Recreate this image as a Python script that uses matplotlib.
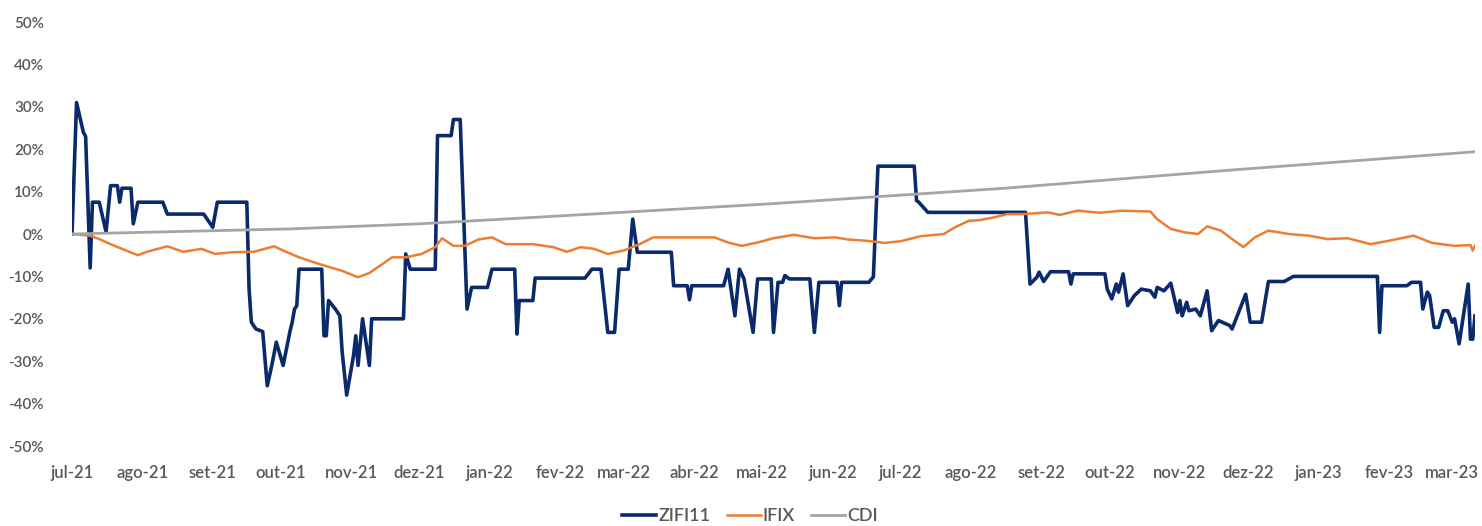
import pandas as pd
import matplotlib
matplotlib.use("Agg")
import matplotlib.pyplot as plt

plt.rcParams['font.family'] = ['Lato', 'DejaVu Sans']

# ZIFI11 cumulative return (%)
zifi_dates = [
    '2021-07-01', '2021-07-03', '2021-07-06', '2021-07-07', '2021-07-09', '2021-07-10', '2021-07-13',
    '2021-07-16', '2021-07-18', '2021-07-21', '2021-07-22', '2021-07-23', '2021-07-27', '2021-07-28',
    '2021-07-30', '2021-08-10', '2021-08-12', '2021-08-28', '2021-09-01', '2021-09-03', '2021-09-16',
    '2021-09-17', '2021-09-18', '2021-09-20', '2021-09-23', '2021-09-25', '2021-09-27', '2021-09-29',
    '2021-10-02', '2021-10-05', '2021-10-06', '2021-10-07', '2021-10-08', '2021-10-09', '2021-10-19',
    '2021-10-20', '2021-10-21', '2021-10-22', '2021-10-25', '2021-10-27', '2021-10-28', '2021-10-30',
    '2021-11-02', '2021-11-03', '2021-11-04', '2021-11-06', '2021-11-09', '2021-11-10', '2021-11-24',
    '2021-11-25', '2021-11-27', '2021-12-08', '2021-12-09', '2021-12-15', '2021-12-16', '2021-12-19',
    '2021-12-22', '2021-12-24', '2021-12-31', '2022-01-02', '2022-01-12', '2022-01-13', '2022-01-14',
    '2022-01-20', '2022-01-21', '2022-02-12', '2022-02-15', '2022-02-19', '2022-02-22', '2022-02-25',
    '2022-02-27', '2022-03-03', '2022-03-05', '2022-03-07', '2022-03-22', '2022-03-23', '2022-03-29',
    '2022-03-30', '2022-03-31', '2022-04-14', '2022-04-16', '2022-04-19', '2022-04-21', '2022-04-23',
    '2022-04-27', '2022-04-29', '2022-05-05', '2022-05-06', '2022-05-08', '2022-05-10', '2022-05-11',
    '2022-05-13', '2022-05-22', '2022-05-24', '2022-05-26', '2022-06-03', '2022-06-04', '2022-06-05',
    '2022-06-17', '2022-06-19', '2022-06-21', '2022-07-07', '2022-07-08', '2022-07-09', '2022-07-13',
    '2022-08-25', '2022-08-27', '2022-08-30', '2022-08-31', '2022-09-02', '2022-09-05', '2022-09-13',
    '2022-09-14', '2022-09-15', '2022-09-29', '2022-09-30', '2022-10-02', '2022-10-04', '2022-10-05',
    '2022-10-07', '2022-10-09', '2022-10-12', '2022-10-15', '2022-10-19', '2022-10-21', '2022-10-22',
    '2022-10-25', '2022-10-28', '2022-10-31', '2022-11-01', '2022-11-02', '2022-11-04', '2022-11-05',
    '2022-11-08', '2022-11-10', '2022-11-13', '2022-11-15', '2022-11-18', '2022-11-23', '2022-11-24',
    '2022-11-30', '2022-12-02', '2022-12-07', '2022-12-10', '2022-12-17', '2022-12-21', '2023-01-27',
    '2023-01-28', '2023-01-29', '2023-02-09', '2023-02-11', '2023-02-15', '2023-02-16', '2023-02-18',
    '2023-02-19', '2023-02-21', '2023-02-23', '2023-02-25', '2023-02-27', '2023-03-01', '2023-03-02',
    '2023-03-04', '2023-03-08', '2023-03-09', '2023-03-10', '2023-03-11',
]
zifi_values = [
    0.0, 31.0, 24.0, 23.0, -8.0, 7.5, 7.5,
    0.5, 11.4, 11.4, 7.5, 10.8, 10.8, 2.4,
    7.5, 7.5, 4.7, 4.7, 1.6, 7.5, 7.5,
    -13.0, -20.8, -22.4, -23.0, -35.8, -31.0, -25.5,
    -31.0, -23.0, -20.8, -17.7, -17.0, -8.3, -8.3,
    -24.0, -24.0, -15.7, -17.7, -19.3, -27.8, -38.0,
    -28.7, -24.0, -31.0, -20.0, -31.0, -20.0, -20.0,
    -4.7, -8.3, -8.3, 23.2, 23.2, 27.0, 27.0,
    -17.7, -12.6, -12.6, -8.3, -8.3, -23.6, -15.7,
    -15.7, -10.4, -10.4, -8.3, -8.3, -23.2, -23.2,
    -8.3, -8.3, 3.5, -4.3, -4.3, -12.2, -12.2,
    -15.5, -12.2, -12.2, -8.3, -19.3, -8.3, -10.6,
    -23.2, -10.6, -10.6, -23.2, -11.4, -11.4, -9.8,
    -10.6, -10.6, -23.2, -11.4, -11.4, -16.9, -11.4,
    -11.4, -10.1, 16.0, 16.0, 7.9, 7.5, 5.1,
    5.1, -11.8, -10.2, -9.0, -11.2, -8.9, -8.9,
    -11.8, -9.4, -9.4, -13.0, -15.3, -11.8, -13.7,
    -9.4, -16.9, -14.5, -13.0, -13.4, -14.9, -12.6,
    -13.4, -11.6, -18.5, -15.7, -19.3, -16.1, -18.1,
    -17.7, -19.3, -13.4, -22.8, -20.4, -21.6, -22.4,
    -14.2, -20.8, -20.8, -11.2, -11.2, -10.0, -10.0,
    -23.2, -12.2, -12.2, -11.4, -11.4, -17.7, -13.7,
    -14.5, -22.0, -22.0, -18.1, -18.1, -20.8, -20.0,
    -25.9, -11.8, -24.8, -24.8, -19.3,
]

# IFIX cumulative return (%)
ifix_dates = [
    '2021-07-01', '2021-07-09', '2021-07-13', '2021-07-18', '2021-07-23', '2021-07-30', '2021-08-03',
    '2021-08-12', '2021-08-19', '2021-08-27', '2021-09-02', '2021-09-10', '2021-09-19', '2021-09-28',
    '2021-10-02', '2021-10-09', '2021-10-18', '2021-10-28', '2021-11-04', '2021-11-09', '2021-11-19',
    '2021-11-25', '2021-12-02', '2021-12-08', '2021-12-11', '2021-12-16', '2021-12-21', '2021-12-27',
    '2022-01-02', '2022-01-08', '2022-01-20', '2022-01-29', '2022-02-04', '2022-02-10', '2022-02-16',
    '2022-02-22', '2022-03-01', '2022-03-08', '2022-03-14', '2022-03-26', '2022-04-10', '2022-04-16',
    '2022-04-22', '2022-04-29', '2022-05-06', '2022-05-15', '2022-05-24', '2022-06-02', '2022-06-08',
    '2022-06-16', '2022-06-24', '2022-07-01', '2022-07-10', '2022-07-20', '2022-07-25', '2022-07-31',
    '2022-08-05', '2022-08-11', '2022-08-17', '2022-08-24', '2022-09-04', '2022-09-09', '2022-09-17',
    '2022-09-27', '2022-10-06', '2022-10-19', '2022-10-22', '2022-10-28', '2022-11-03', '2022-11-09',
    '2022-11-13', '2022-11-19', '2022-11-24', '2022-11-29', '2022-12-04', '2022-12-10', '2022-12-19',
    '2022-12-28', '2023-01-05', '2023-01-14', '2023-01-24', '2023-02-01', '2023-02-12', '2023-02-20',
    '2023-03-02', '2023-03-09', '2023-03-10', '2023-03-11',
]
ifix_values = [
    0.0, -0.4, -1.2, -2.4, -3.5, -5.0, -4.2,
    -2.9, -4.2, -3.5, -4.7, -4.3, -4.2, -2.9,
    -3.9, -5.5, -7.1, -8.7, -10.2, -9.2, -5.5,
    -5.5, -4.7, -3.1, -1.0, -2.8, -2.8, -1.3,
    -0.8, -2.4, -2.4, -3.1, -4.2, -3.1, -3.5,
    -4.7, -3.9, -2.4, -0.8, -0.8, -0.8, -2.0,
    -2.8, -2.0, -1.0, -0.2, -1.0, -0.8, -1.3,
    -1.6, -2.1, -1.7, -0.5, 0.0, 1.6, 3.1,
    3.3, 3.9, 4.7, 4.7, 5.1, 4.5, 5.5,
    5.0, 5.5, 5.3, 3.5, 1.2, 0.4, 0.0,
    1.8, 0.8, -1.2, -3.1, -0.8, 0.8, 0.0,
    -0.4, -1.2, -1.0, -2.4, -1.6, -0.4, -2.1,
    -2.8, -2.6, -3.9, -2.8,
]

# CDI cumulative return (%)
cdi_dates = ['2021-07-01', '2021-10-05', '2021-12-01', '2022-01-20', '2022-05-04',
             '2022-08-16', '2022-11-24', '2023-03-11']
cdi_values = [0.0, 1.2, 2.4, 3.9, 7.1, 10.8, 15.1, 19.4]

month_labels = ['jul-21', 'ago-21', 'set-21', 'out-21', 'nov-21', 'dez-21', 'jan-22',
                'fev-22', 'mar-22', 'abr-22', 'mai-22', 'jun-22', 'jul-22', 'ago-22',
                'set-22', 'out-22', 'nov-22', 'dez-22', 'jan-23', 'fev-23', 'mar-23']

text_color = '#595959'

fig = plt.figure(figsize=(14.82, 5.26), dpi=100)
ax = fig.add_axes([72 / 1482, 1 - 446 / 526, (1475 - 72) / 1482, 424 / 526])

ax.plot(pd.to_datetime(zifi_dates), zifi_values, color='#0B2A6B', lw=2.6, label='ZIFI11')
ax.plot(pd.to_datetime(ifix_dates), ifix_values, color='#ED7D31', lw=1.8, label='IFIX')
ax.plot(pd.to_datetime(cdi_dates), cdi_values, color='#A5A5A5', lw=2.0, label='CDI')

ax.set_xlim(pd.Timestamp('2021-07-01'), pd.Timestamp('2023-03-11'))
ax.set_ylim(-50, 50)
ax.set_yticks(range(-50, 51, 10))
ax.set_yticklabels([f'{v}%' for v in range(-50, 51, 10)])
ax.set_xticks(pd.date_range('2021-07-01', '2023-03-01', freq='MS'))
ax.set_xticklabels(month_labels)

for s in ax.spines.values():
    s.set_visible(False)
ax.tick_params(axis='both', length=0, labelcolor=text_color)
ax.tick_params(axis='y', pad=20, labelsize=11)
ax.tick_params(axis='x', pad=14, labelsize=12)
for lab in ax.get_xticklabels() + ax.get_yticklabels():
    lab.set_fontweight('semibold')

leg = fig.legend(loc='center', bbox_to_anchor=(750 / 1482, 1 - 516 / 526), ncol=3, frameon=False,
                 fontsize=13, labelcolor=text_color, handlelength=1.9, handletextpad=0.1,
                 columnspacing=0.9)
for t in leg.get_texts():
    t.set_fontweight('semibold')

fig.savefig('out.png', dpi=100)
